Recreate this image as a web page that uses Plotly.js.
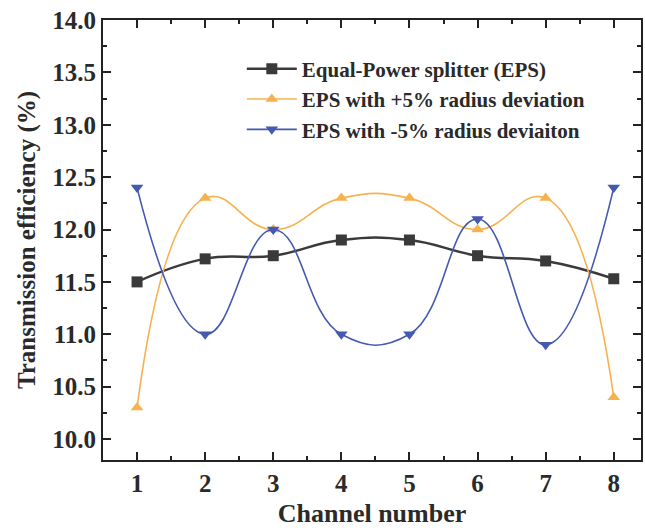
<!DOCTYPE html>
<html><head><meta charset="utf-8">
<script src="https://cdn.plot.ly/plotly-3.0.1.min.js"></script>
<style>html,body{margin:0;padding:0;background:#fff}#c{width:645px;height:530px}</style>
</head><body><div id="c"></div>
<script>
const channels = [1,2,3,4,5,6,7,8];
const eps = [11.5, 11.72, 11.75, 11.9, 11.9, 11.75, 11.7, 11.53];
const epsPlus5 = [10.3, 12.3, 12.0, 12.3, 12.3, 12.0, 12.3, 10.4];
const epsMinus5 = [12.4, 11.0, 12.0, 11.0, 11.0, 12.1, 10.9, 12.4];
const names = ['Equal-Power splitter (EPS)','EPS with +5% radius deviation','EPS with -5% radius deviaiton'];

const font = {family:'"Liberation Serif","Times New Roman",serif', color:'#2a2a2a'};
function tr(y, name, color, sym, lw){
  return {x:channels, y:y, name:name, type:'scatter', mode:'lines+markers',
    line:{color:color, width:lw, shape:'spline', smoothing:1.3},
    marker:{symbol:sym, size:11, color:color}};
}
const data = [
  tr(eps, names[0], '#3a3a3a', 'square', 2.5),
  tr(epsPlus5, names[1], '#f6b24e', 'triangle-up', 1.6),
  tr(epsMinus5, names[2], '#4459b0', 'triangle-down', 1.6)
];
const axBase = {showline:true, linecolor:'#222', linewidth:2, mirror:'ticks', ticks:'inside',
  ticklen:8, tickwidth:2, tickcolor:'#222', showgrid:false, zeroline:false,
  tickfont:Object.assign({size:25}, font, {weight:'bold'})};
const layout = {
  width:645, height:530, paper_bgcolor:'#fff', plot_bgcolor:'#fff',
  margin:{l:103, r:4, t:20, b:70},
  showlegend:true,
  legend:{x:0.258, y:0.935, xanchor:'left', yanchor:'top', bgcolor:'rgba(0,0,0,0)',
    font:Object.assign({size:21}, font, {weight:'bold'}), itemwidth:50, tracegroupgap:0},
  xaxis:Object.assign({}, axBase, {range:[0.5,8.4], tickvals:channels, ticktext:channels.map(String),
    minor:{ticks:'inside', dtick:0.5, tick0:0.5, ticklen:4, tickwidth:2, tickcolor:'#222'},
    title:{text:'Channel number', font:Object.assign({size:26}, font, {weight:'bold'}), standoff:8}}),
  yaxis:Object.assign({}, axBase, {range:[9.8,14.0], dtick:0.5, tick0:10, tickformat:'.1f',
    minor:{ticks:'inside', dtick:0.25, ticklen:4, tickwidth:2, tickcolor:'#222'},
    title:{text:'Transmission efficiency (%)', font:Object.assign({size:25}, font, {weight:'bold'}), standoff:10}})
};
Plotly.newPlot('c', data, layout, {displayModeBar:false, staticPlot:true});
</script></body></html>
